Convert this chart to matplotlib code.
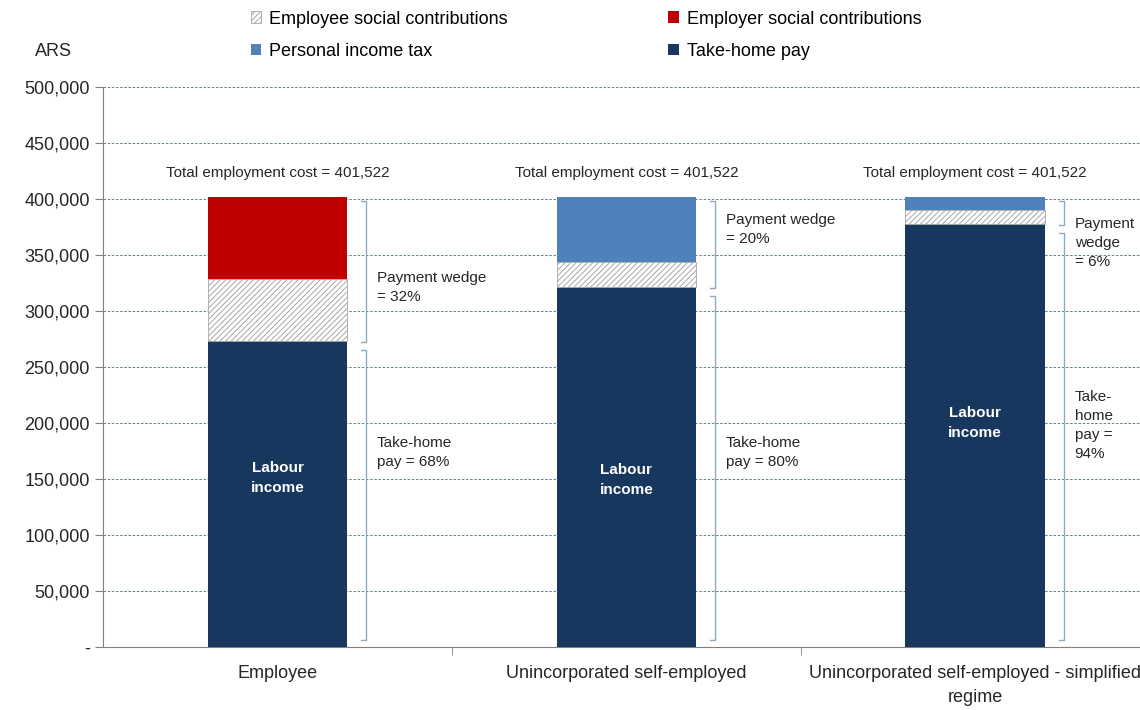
import matplotlib.pyplot as plt
from matplotlib.patches import Patch
from matplotlib.ticker import FuncFormatter

plt.rcParams['font.family'] = ['Liberation Sans', 'DejaVu Sans']
plt.rcParams['hatch.linewidth'] = 0.7

categories = ["Employee", "Unincorporated self-employed",
              "Unincorporated self-employed - simplified\nregime"]
total_cost = 401522
take_home = [273035, 321218, 377431]
employee_ssc = [55900, 22500, 12700]
employer_ssc = [72587, 0, 0]
income_tax = [0, 57804, 11391]
wedge_pct = [32, 20, 6]
home_pct = [68, 80, 94]
wedge_text = ["Payment wedge\n= 32%", "Payment wedge\n= 20%", "Payment\nwedge\n= 6%"]
home_text = ["Take-home\npay = 68%", "Take-home\npay = 80%", "Take-\nhome\npay =\n94%"]
wedge_text_y = [321000, 373000, 361000]
home_text_y = [174000, 174000, 198000]
labour_y = [151000, 149000, 200000]

c_home = "#17375E"
c_tax = "#4F81BD"
c_employer = "#C00000"
c_hatch = "#A6A6A6"
c_bracket = "#8EA9C1"

fig = plt.figure(figsize=(11.4, 7.1), dpi=100)
ax = fig.add_axes([0.0904, 0.0887, 0.915, 0.7887])

x = list(range(len(categories)))
w = 0.4
ax.bar(x, take_home, w, color=c_home, zorder=3)
b2 = take_home
ax.bar(x, employee_ssc, w, bottom=b2, color="white", edgecolor=c_hatch,
       hatch="//////", linewidth=0.6, zorder=3)
b3 = [a + b for a, b in zip(b2, employee_ssc)]
ax.bar(x, employer_ssc, w, bottom=b3, color=c_employer, zorder=3)
b4 = [a + b for a, b in zip(b3, employer_ssc)]
ax.bar(x, income_tax, w, bottom=b4, color=c_tax, zorder=3)


def bracket(xp, top, bottom, tick=0.015):
    ax.plot([xp - tick, xp, xp, xp - tick], [top, top, bottom, bottom],
            color=c_bracket, lw=1.0, zorder=4, clip_on=False)


for i in x:
    bx = i + 0.255
    bracket(bx, total_cost - 3000, take_home[i] - 1000)
    bracket(bx, take_home[i] - 8000, 6000)
    ax.text(i + 0.285, wedge_text_y[i], wedge_text[i], ha="left", va="center",
            fontsize=11, color="#262626", linespacing=1.45)
    ax.text(i + 0.285, home_text_y[i], home_text[i], ha="left", va="center",
            fontsize=11, color="#262626", linespacing=1.45)
    ax.text(i, 423000, "Total employment cost = {:,}".format(total_cost),
            ha="center", va="center", fontsize=11, color="#262626")
    ax.text(i, labour_y[i], "Labour\nincome", ha="center", va="center",
            fontsize=11, color="white", fontweight="bold", zorder=5,
            linespacing=1.5)

ax.set_xlim(-0.5, 2.49)
ax.set_ylim(0, 500000)
ax.set_yticks(range(0, 500001, 50000))
ax.yaxis.set_major_formatter(FuncFormatter(lambda v, p: "-" if v == 0 else "{:,.0f}".format(v)))
ax.tick_params(axis="y", labelsize=13, length=6, color="#808080", labelcolor="#262626")
ax.set_xticks(x)
ax.set_xticklabels(categories, fontsize=13, color="#262626", linespacing=1.5)
ax.set_xticks([0.5, 1.5], minor=True)
ax.tick_params(axis="x", which="major", length=0, pad=13)
ax.tick_params(axis="x", which="minor", length=6, color="#808080")
ax.grid(axis="y", linestyle=(0, (3, 2)), color="#4A6A8A", linewidth=0.6, zorder=0)
for s in ["top", "right"]:
    ax.spines[s].set_visible(False)
for s in ["left", "bottom"]:
    ax.spines[s].set_color("#808080")

fig.text(0.031, 0.927, "ARS", fontsize=13, color="#262626", va="center")

handles = [
    Patch(facecolor="white", edgecolor=c_hatch, hatch="//////", lw=0.6, label="Employee social contributions"),
    Patch(facecolor=c_tax, label="Personal income tax"),
    Patch(facecolor=c_employer, label="Employer social contributions"),
    Patch(facecolor=c_home, label="Take-home pay"),
]
fig.legend(handles=handles, ncol=2, loc="upper left", bbox_to_anchor=(0.2055, 1.008),
           frameon=False, fontsize=13, handlelength=0.6, handleheight=0.6,
           handletextpad=0.45, columnspacing=8.85, labelspacing=0.85)

fig.savefig("out.png", dpi=100)
